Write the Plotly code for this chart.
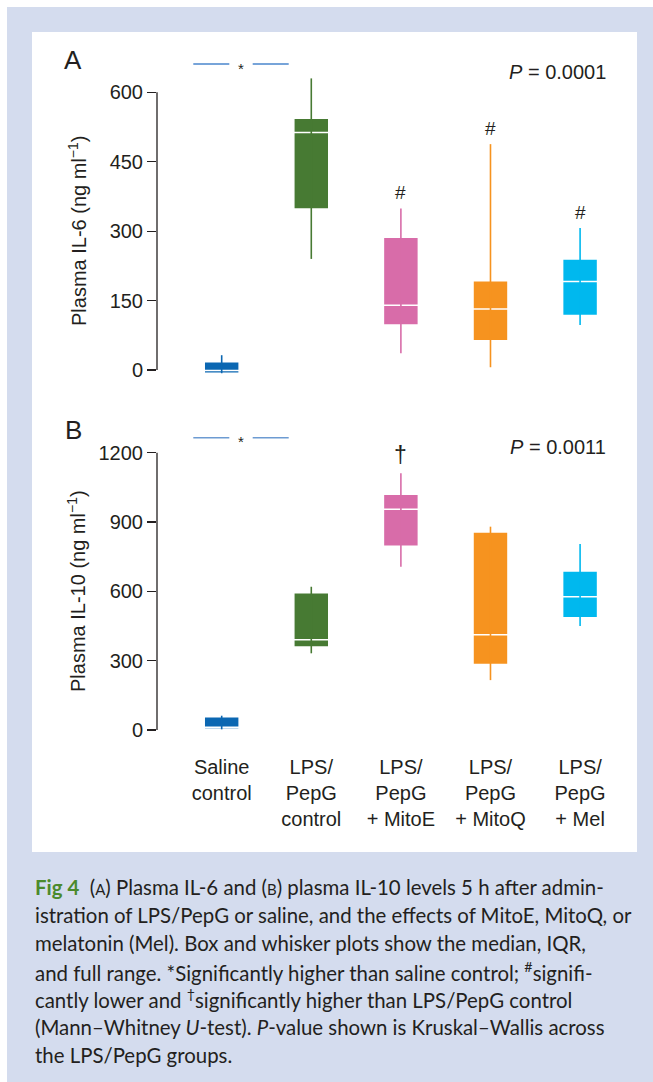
import plotly.graph_objects as go

# ---------------- data ----------------
groups = ["Saline<br>control", "LPS/<br>PepG<br>control", "LPS/<br>PepG<br>+ MitoE",
          "LPS/<br>PepG<br>+ MitoQ", "LPS/<br>PepG<br>+ Mel"]
colors = ["#0b67b2", "#477a33", "#d86ca9", "#f6931f", "#00b8ee"]

# Panel A: IL-6 (ng/ml)
il6_min = [-7, 240, 36, 6, 97]
il6_q1 = [-7, 348, 97, 63, 118]
il6_med = [-1, 513, 140, 132, 191]
il6_q3 = [18, 544, 287, 193, 240]
il6_max = [32, 630, 349, 488, 307]
il6_marks = ["", "", "#", "#", "#"]
il6_ticks = [0, 150, 300, 450, 600]

# Panel B: IL-10 (ng/ml)
il10_min = [3, 332, 707, 216, 450]
il10_q1 = [5, 359, 795, 284, 486]
il10_med = [12, 391, 955, 412, 577]
il10_q3 = [58, 594, 1020, 857, 688]
il10_max = [62, 620, 1111, 880, 805]
il10_marks = ["", "", "†", "", ""]
il10_ticks = [0, 300, 600, 900, 1200]

p_text = ["<i>P</i> = 0.0001", "<i>P</i> = 0.0011"]
sig_level = [661, 1265]

caption_lines = [
    "<b><span style='color:#4b8a2c'>Fig 4</span></b>  (<span style='font-size:15px'>A</span>) Plasma IL-6 and (<span style='font-size:15px'>B</span>) plasma IL-10 levels 5 h after admin-",
    "istration of LPS/PepG or saline, and the effects of MitoE, MitoQ, or",
    "melatonin (Mel). Box and whisker plots show the median, IQR,",
    "and full range. *Significantly higher than saline control; <sup>#</sup>signifi-",
    "cantly lower and <sup>†</sup>significantly higher than LPS/PepG control",
    "(Mann–Whitney <i>U</i>-test). <i>P</i>-value shown is Kruskal–Wallis across",
    "the LPS/PepG groups.",
]

# ---------------- figure ----------------
W, H = 653, 1082
FONT = "Liberation Sans"
TXT = "#231f20"
positions = list(range(len(groups)))

fig = go.Figure()

panels = [
    dict(xa="x", ya="y", mn=il6_min, q1=il6_q1, med=il6_med, q3=il6_q3, mx=il6_max, marks=il6_marks),
    dict(xa="x2", ya="y2", mn=il10_min, q1=il10_q1, med=il10_med, q3=il10_q3, mx=il10_max, marks=il10_marks),
]

for pi, p in enumerate(panels):
    for i, pos in enumerate(positions):
        # whisker (full range) behind the box
        fig.add_trace(go.Scatter(
            x=[pos, pos], y=[p["mn"][i], p["mx"][i]], mode="lines",
            line=dict(color=colors[i], width=1.6), xaxis=p["xa"], yaxis=p["ya"],
            showlegend=False, hoverinfo="skip"))
        fig.add_trace(go.Box(
            x=[pos], q1=[p["q1"][i]], median=[p["med"][i]], q3=[p["q3"][i]],
            lowerfence=[p["q1"][i]], upperfence=[p["q3"][i]],
            fillcolor=colors[i], line=dict(color="white", width=1.5),
            width=0.39, xaxis=p["xa"], yaxis=p["ya"], showlegend=False,
            hoverinfo="skip"))
        if p["marks"][i]:
            fig.add_annotation(x=pos, y=p["mx"][i], xref=p["xa"], yref=p["ya"],
                               text=p["marks"][i], showarrow=False, yanchor="bottom",
                               yshift=3, font=dict(family=FONT, size=19 if p["marks"][i] == "#" else 23, color=TXT))

XDOM = [157 / W, 630 / W]
XR = [-0.722, 4.557]
ydomA = [(H - 383.9) / H, (H - 46) / H]
ydomB = [(H - 743.9) / H, (H - 406.5) / H]

axfont = dict(family=FONT, size=20, color=TXT)
fig.update_layout(
    width=W, height=H, margin=dict(l=0, r=0, t=0, b=0),
    paper_bgcolor="white", plot_bgcolor="rgba(0,0,0,0)",
    showlegend=False,
    xaxis=dict(domain=XDOM, range=XR, anchor="y", showticklabels=False, ticks="",
               showline=False, showgrid=False, zeroline=False),
    yaxis=dict(domain=ydomA, range=[-30, 700], anchor="x", tickvals=il6_ticks,
               ticks="outside", ticklen=9, tickwidth=1.3, tickcolor=TXT,
               showline=False, showgrid=False, zeroline=False, tickfont=axfont),
    xaxis2=dict(domain=XDOM, range=XR, anchor="y2", tickvals=positions, ticktext=groups,
                ticks="", showline=False, showgrid=False, zeroline=False, tickfont=axfont,
                ticklabelstandoff=9),
    yaxis2=dict(domain=ydomB, range=[-60, 1400], anchor="x2", tickvals=il10_ticks,
                ticks="outside", ticklen=9, tickwidth=1.3, tickcolor=TXT,
                showline=False, showgrid=False, zeroline=False, tickfont=axfont),
)

shapes = [
    dict(type="rect", xref="paper", yref="paper", x0=7 / W, x1=1, y0=0, y1=(H - 7) / H,
         fillcolor="#d4dcee", line=dict(width=0), layer="below"),
    dict(type="rect", xref="paper", yref="paper", x0=32 / W, x1=637 / W, y0=(H - 852) / H, y1=(H - 32) / H,
         fillcolor="white", line=dict(width=0), layer="below"),
    # range-frame spines
    dict(type="line", xref="x domain", yref="y", x0=0, x1=0, y0=il6_ticks[0], y1=il6_ticks[-1],
         line=dict(color=TXT, width=1.3)),
    dict(type="line", xref="x2 domain", yref="y2", x0=0, x1=0, y0=il10_ticks[0], y1=il10_ticks[-1],
         line=dict(color=TXT, width=1.3)),
]
# significance brackets (saline vs LPS/PepG control)
for (xa, ya), lvl, col in zip([("x", "y"), ("x2", "y2")], sig_level, ["#4a86cc", "#6d9bd2"]):
    for x0, x1 in [(-0.317, 0.085), (0.346, 0.748)]:
        shapes.append(dict(type="line", xref=xa, yref=ya, x0=x0, x1=x1, y0=lvl, y1=lvl,
                           line=dict(color=col, width=1.5)))
    fig.add_annotation(x=0.212, y=lvl, xref=xa, yref=ya, text="*", showarrow=False,
                       yanchor="middle", yshift=-4, font=dict(family=FONT, size=15, color=TXT))
fig.update_layout(shapes=shapes)

# panel letters, P values, y titles
for lab, ypx in [("A", 60), ("B", 430)]:
    fig.add_annotation(x=73 / W, y=(H - ypx) / H, xref="paper", yref="paper", text=lab,
                       showarrow=False, xanchor="center", yanchor="middle",
                       font=dict(family=FONT, size=26, color=TXT))
for txt, ypx in zip(p_text, [71.7, 446.7]):
    fig.add_annotation(x=608 / W, y=(H - ypx) / H, xref="paper", yref="paper", text=txt,
                       showarrow=False, xanchor="right", yanchor="middle",
                       font=dict(family=FONT, size=20, color=TXT))
for txt, ypx in [("Plasma IL-6 (ng ml<sup>−1</sup>)", 231), ("Plasma IL-10 (ng ml<sup>−1</sup>)", 591)]:
    fig.add_annotation(x=77 / W, y=(H - ypx) / H, xref="paper", yref="paper", text=txt,
                       textangle=-90, showarrow=False, xanchor="center", yanchor="middle",
                       font=dict(family=FONT, size=20, color=TXT))

# caption
cap_y = [887, 915, 943.3, 971, 998.5, 1026.7, 1055]
for line, ypx in zip(caption_lines, cap_y):
    fig.add_annotation(x=33 / W, y=(H - ypx) / H, xref="paper", yref="paper", text=line,
                       showarrow=False, xanchor="left", yanchor="middle", align="left",
                       font=dict(family="Lato", size=20.4, color=TXT))

fig.write_html("out.html", config={"displayModeBar": False, "staticPlot": True},
               post_script="document.body.style.margin='0';document.body.style.overflow='hidden';")
